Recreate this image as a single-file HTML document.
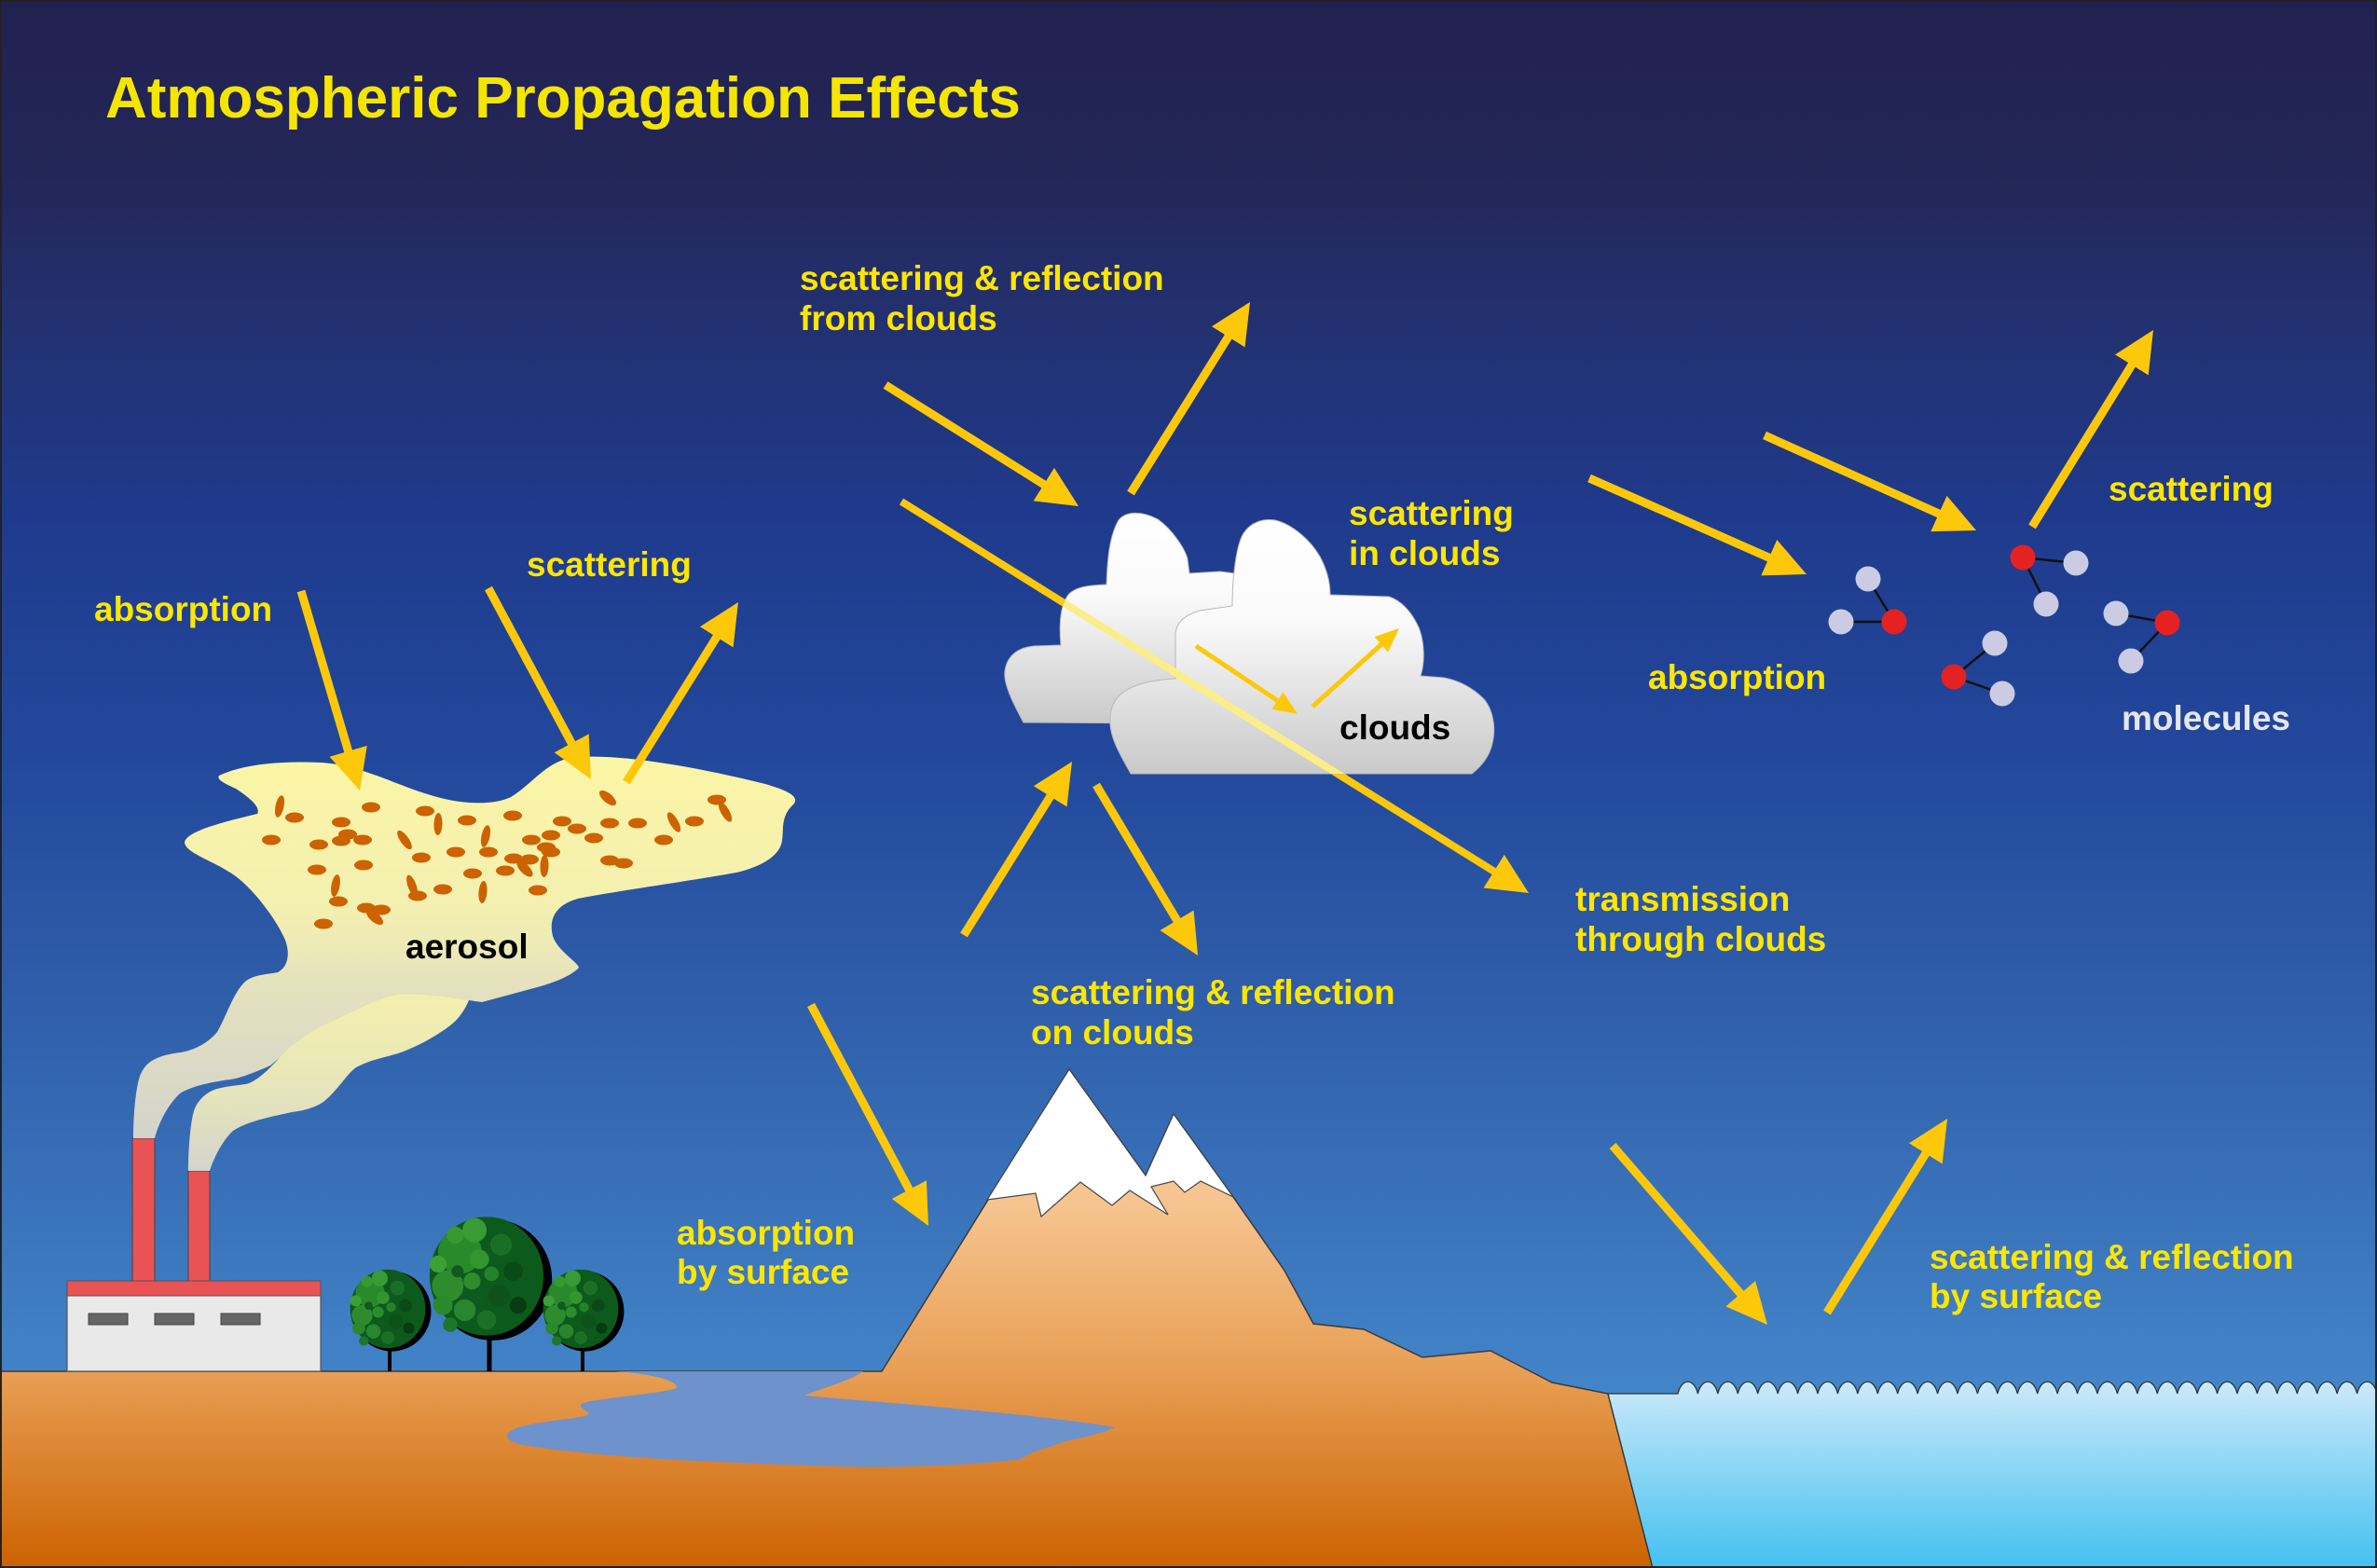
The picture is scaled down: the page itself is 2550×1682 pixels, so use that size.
<!DOCTYPE html>
<html><head><meta charset="utf-8"><style>
html,body{margin:0;padding:0;background:#222250;}
svg{display:block}
text{font-family:"Liberation Sans",Arial,sans-serif;font-weight:bold}
</style></head><body>
<svg width="2550" height="1682" viewBox="0 0 2550 1682" xmlns="http://www.w3.org/2000/svg">
<defs>
<linearGradient id="sky" gradientUnits="userSpaceOnUse" x1="0" y1="0" x2="0" y2="1482">
<stop offset="0" stop-color="#212150"/>
<stop offset="0.135" stop-color="#232759"/>
<stop offset="0.223" stop-color="#23306e"/>
<stop offset="0.371" stop-color="#1f3a8c"/>
<stop offset="0.547" stop-color="#22489c"/>
<stop offset="0.708" stop-color="#2e5ca8"/>
<stop offset="1" stop-color="#4284c8"/>
</linearGradient>
<linearGradient id="ground" gradientUnits="userSpaceOnUse" x1="0" y1="1148" x2="0" y2="1682">
<stop offset="0" stop-color="#f8cb9c"/>
<stop offset="0.27" stop-color="#f6c48f"/>
<stop offset="0.605" stop-color="#e89f55"/>
<stop offset="1" stop-color="#cc6200"/>
</linearGradient>
<linearGradient id="sea" gradientUnits="userSpaceOnUse" x1="0" y1="1480" x2="0" y2="1682">
<stop offset="0" stop-color="#cde9f9"/>
<stop offset="1" stop-color="#43c1f0"/>
</linearGradient>
<linearGradient id="cloudg" x1="0" y1="0" x2="0" y2="1">
<stop offset="0" stop-color="#ffffff"/>
<stop offset="0.4" stop-color="#fafafa"/>
<stop offset="1" stop-color="#c9c9c9"/>
</linearGradient>
<linearGradient id="aer" gradientUnits="userSpaceOnUse" x1="0" y1="820" x2="0" y2="1222">
<stop offset="0" stop-color="#fbf5a6"/>
<stop offset="0.4" stop-color="#f3efb0"/>
<stop offset="0.6" stop-color="#e4e1be"/>
<stop offset="1" stop-color="#d3d3cc"/>
</linearGradient>
<linearGradient id="plume2" gradientUnits="userSpaceOnUse" x1="0" y1="1066" x2="0" y2="1257">
<stop offset="0" stop-color="#f3f0ae"/>
<stop offset="0.5" stop-color="#e8e6b8"/>
<stop offset="1" stop-color="#d4d4cc"/>
</linearGradient>
<marker id="ah" markerUnits="userSpaceOnUse" markerWidth="44" markerHeight="42" viewBox="0 0 44 42" refX="24" refY="21" orient="auto">
<path d="M0,0 L44,21 L0,42 Z" fill="#fec80a"/>
</marker>
<marker id="ahs" markerUnits="userSpaceOnUse" markerWidth="26" markerHeight="22" viewBox="0 0 26 22" refX="14" refY="11" orient="auto">
<path d="M0,0 L26,11 L0,22 Z" fill="#fec80a"/>
</marker>
<clipPath id="cloudclip">
<path d="M1098,775 C1090,760 1076,735 1078,720 C1080,705 1090,695 1109,693 L1138,692 C1136,670 1137,650 1146,638 C1155,628 1172,628 1187,627 C1188,600 1190,575 1200,558 C1208,548 1225,548 1242,557 C1258,568 1272,590 1274,600 L1276,615 L1309,613 L1324,615 L1330,700 L1250,776 Z"/>
<path d="M1213,830 C1205,815 1192,795 1191,777 C1190,760 1195,748 1209,740 C1220,733 1240,729 1261,728 L1261,680 C1262,668 1270,660 1287,655 L1322,650 C1322,620 1326,585 1334,572 C1342,560 1355,556 1368,558 C1385,562 1405,578 1416,597 C1424,612 1427,625 1427,638 L1490,640 C1505,645 1515,658 1522,673 C1528,688 1529,710 1524,725 L1549,727 C1565,730 1580,738 1592,750 C1602,762 1604,780 1602,792 C1600,806 1594,818 1579,830 Z"/>
</clipPath>
<g id="canopy">
<ellipse cx="5" cy="3" rx="49" ry="50" fill="#000"/>
<ellipse cx="0" cy="0" rx="47" ry="49" fill="#0c5a1c"/>
<circle cx="-22" cy="-20" r="18" fill="#2a8a2b"/>
<circle cx="-32" cy="8" r="13" fill="#2e8c2e"/>
<circle cx="-10" cy="-38" r="10" fill="#3a9a34"/>
<circle cx="-26" cy="-34" r="7" fill="#38992f"/>
<circle cx="-40" cy="-10" r="7" fill="#3da035"/>
<circle cx="-36" cy="24" r="8" fill="#2a8a2b"/>
<circle cx="-18" cy="28" r="9" fill="#2a8530"/>
<circle cx="-6" cy="-14" r="8" fill="#34952f"/>
<circle cx="-12" cy="4" r="7" fill="#2e8c2e"/>
<circle cx="12" cy="-26" r="9" fill="#1a6e26"/>
<circle cx="22" cy="-4" r="8" fill="#0a4a16"/>
<circle cx="10" cy="16" r="9" fill="#0d5219"/>
<circle cx="0" cy="36" r="8" fill="#1b7026"/>
<circle cx="26" cy="24" r="7" fill="#063d10"/>
<circle cx="4" cy="-2" r="6" fill="#258229"/>
<circle cx="-24" cy="-4" r="5" fill="#0f5a1e"/>
<circle cx="-8" cy="18" r="5" fill="#0f5a1e"/>
<circle cx="-30" cy="40" r="6" fill="#1e7628"/>
</g>
</defs>

<rect x="0" y="0" width="2550" height="1682" fill="url(#sky)"/>

<text x="113" y="126" font-size="62" fill="#f5e600">Atmospheric Propagation Effects</text>

<path d="M0,1471 L946,1471 L1060,1287 L1147,1147 L1229,1261 L1259,1195 L1323,1284 L1378,1363 L1409,1420 L1463,1426 L1526,1456 L1599,1449 L1665,1483 L1725,1495 L1773,1682 L0,1682 Z" fill="url(#ground)" stroke="#3a3a3a" stroke-width="1.5"/>
<path d="M1059,1287 L1147,1147 L1229,1261 L1259,1195 L1323,1284 L1288,1267 L1271,1279 L1259,1267 L1235,1273 L1253,1303 L1212,1277 L1193,1293 L1159,1268 L1117,1305 L1111,1280 Z" fill="#ffffff" stroke="#444" stroke-width="1.2"/>

<path d="M660,1471 L926,1471 C915,1480 880,1490 863,1497 C950,1505 1100,1515 1196,1531 C1180,1540 1140,1545 1130,1551 C1110,1556 1100,1562 1095,1565 C1050,1572 950,1575 900,1573 C800,1570 650,1565 561,1550 C540,1545 538,1538 556,1531 C590,1522 630,1522 632,1516 C625,1510 612,1506 640,1502 C690,1495 730,1492 726,1487 C722,1480 700,1474 660,1471 Z" fill="#6e92cb"/>

<path d="M1725,1495 L1800,1495 c4,-17 17.43,-17 21.43,0 c4,-17 17.43,-17 21.43,0 c4,-17 17.43,-17 21.43,0 c4,-17 17.43,-17 21.43,0 c4,-17 17.43,-17 21.43,0 c4,-17 17.43,-17 21.43,0 c4,-17 17.43,-17 21.43,0 c4,-17 17.43,-17 21.43,0 c4,-17 17.43,-17 21.43,0 c4,-17 17.43,-17 21.43,0 c4,-17 17.43,-17 21.43,0 c4,-17 17.43,-17 21.43,0 c4,-17 17.43,-17 21.43,0 c4,-17 17.43,-17 21.43,0 c4,-17 17.43,-17 21.43,0 c4,-17 17.43,-17 21.43,0 c4,-17 17.43,-17 21.43,0 c4,-17 17.43,-17 21.43,0 c4,-17 17.43,-17 21.43,0 c4,-17 17.43,-17 21.43,0 c4,-17 17.43,-17 21.43,0 c4,-17 17.43,-17 21.43,0 c4,-17 17.43,-17 21.43,0 c4,-17 17.43,-17 21.43,0 c4,-17 17.43,-17 21.43,0 c4,-17 17.43,-17 21.43,0 c4,-17 17.43,-17 21.43,0 c4,-17 17.43,-17 21.43,0 c4,-17 17.43,-17 21.43,0 c4,-17 17.43,-17 21.43,0 c4,-17 17.43,-17 21.43,0 c4,-17 17.43,-17 21.43,0 c4,-17 17.43,-17 21.43,0 c4,-17 17.43,-17 21.43,0 c4,-17 17.43,-17 21.43,0 L2550,1682 L1773,1682 Z" fill="url(#sea)" stroke="#333" stroke-width="1.3"/>

<rect x="142" y="1221" width="24" height="156" fill="#e95355" stroke="#444" stroke-width="1"/>
<rect x="202" y="1256" width="23" height="121" fill="#e95355" stroke="#444" stroke-width="1"/>
<rect x="72" y="1389" width="272" height="82" fill="#e9e9e9" stroke="#555" stroke-width="1.2"/>
<rect x="72" y="1374" width="272" height="16" fill="#e95355" stroke="#555" stroke-width="1"/>
<rect x="95" y="1409" width="42" height="12" fill="#666" stroke="#444" stroke-width="1"/>
<rect x="166" y="1409" width="42" height="12" fill="#666" stroke="#444" stroke-width="1"/>
<rect x="237" y="1409" width="42" height="12" fill="#666" stroke="#444" stroke-width="1"/>

<path d="M235,832 C260,820 300,816 344,818 C385,820 425,842 459,852 C485,861 525,866 548,855 C570,842 585,818 612,813 C665,806 770,828 821,841 C845,848 860,855 850,864 C836,878 842,892 838,906 C833,920 815,930 790,936 C740,945 660,956 620,964 C598,970 588,984 593,1004 C598,1020 620,1032 621,1038 C612,1048 590,1055 580,1058 L543,1068 L517,1075 L503,1073 L420,1090 L330,1110 L290,1143 C270,1152 255,1157 247,1158 C230,1160 205,1165 193,1173 C180,1185 170,1205 166,1221 L143,1221 C143,1195 146,1160 152,1150 C158,1138 170,1132 193,1129 C207,1127 222,1120 233,1107 C243,1090 250,1065 263,1053 C272,1045 290,1045 298,1043 C310,1037 312,1020 304,1004 C295,985 270,950 247,936 C225,922 200,915 198,904 C199,893 230,884 276,873 C280,866 268,856 253,846 C240,840 232,836 235,832 Z" fill="url(#aer)"/>
<path d="M202,1256 C202,1230 205,1195 210,1187 C215,1177 225,1169 237,1167 C250,1164 262,1164 267,1162 C280,1157 295,1140 307,1127 C318,1117 335,1105 353,1097 C375,1088 405,1070 427,1067 C445,1065 480,1070 503,1073 C498,1085 490,1095 483,1100 C470,1110 450,1122 427,1130 C410,1135 397,1137 382,1145 C372,1152 362,1170 347,1182 C335,1190 320,1192 313,1193 C290,1198 265,1203 250,1213 C240,1222 230,1240 225,1256 Z" fill="url(#plume2)"/>

<g fill="#cc6300">
<ellipse cx="300" cy="865" rx="12" ry="4.5" transform="rotate(-78 300 865)"/>
<ellipse cx="316" cy="877" rx="10" ry="5.5"/>
<ellipse cx="398" cy="866" rx="10" ry="5.5"/>
<ellipse cx="366" cy="882" rx="10" ry="5.5"/>
<ellipse cx="291" cy="901" rx="10" ry="5.5"/>
<ellipse cx="342" cy="906" rx="10" ry="5.5"/>
<ellipse cx="366" cy="902" rx="10" ry="5.5"/>
<ellipse cx="373" cy="895" rx="10" ry="5.5"/>
<ellipse cx="389" cy="901" rx="10" ry="5.5"/>
<ellipse cx="456" cy="870" rx="10" ry="5.5"/>
<ellipse cx="470" cy="884" rx="12" ry="4.5" transform="rotate(-88 470 884)"/>
<ellipse cx="501" cy="880" rx="10" ry="5.5"/>
<ellipse cx="550" cy="875" rx="10" ry="5.5"/>
<ellipse cx="434" cy="901" rx="12" ry="4.5" transform="rotate(55 434 901)"/>
<ellipse cx="521" cy="897" rx="12" ry="4.5" transform="rotate(-78 521 897)"/>
<ellipse cx="452" cy="920" rx="10" ry="5.5"/>
<ellipse cx="489" cy="914" rx="10" ry="5.5"/>
<ellipse cx="524" cy="914" rx="10" ry="5.5"/>
<ellipse cx="570" cy="901" rx="10" ry="5.5"/>
<ellipse cx="591" cy="896" rx="10" ry="5.5"/>
<ellipse cx="603" cy="881" rx="10" ry="5.5"/>
<ellipse cx="619" cy="889" rx="10" ry="5.5"/>
<ellipse cx="586" cy="909" rx="10" ry="5.5"/>
<ellipse cx="591" cy="914" rx="10" ry="5.5"/>
<ellipse cx="637" cy="899" rx="10" ry="5.5"/>
<ellipse cx="654" cy="883" rx="10" ry="5.5"/>
<ellipse cx="684" cy="883" rx="10" ry="5.5"/>
<ellipse cx="712" cy="901" rx="10" ry="5.5"/>
<ellipse cx="723" cy="882" rx="12" ry="4.5" transform="rotate(60 723 882)"/>
<ellipse cx="745" cy="881" rx="10" ry="5.5"/>
<ellipse cx="769" cy="858" rx="10" ry="5.5"/>
<ellipse cx="778" cy="871" rx="12" ry="4.5" transform="rotate(60 778 871)"/>
<ellipse cx="652" cy="856" rx="11" ry="5" transform="rotate(40 652 856)"/>
<ellipse cx="654" cy="923" rx="10" ry="5.5"/>
<ellipse cx="669" cy="926" rx="10" ry="5.5"/>
<ellipse cx="551" cy="921" rx="10" ry="5.5"/>
<ellipse cx="568" cy="922" rx="10" ry="5.5"/>
<ellipse cx="563" cy="932" rx="11" ry="5" transform="rotate(45 563 932)"/>
<ellipse cx="584" cy="929" rx="12" ry="4.5" transform="rotate(-88 584 929)"/>
<ellipse cx="542" cy="934" rx="10" ry="5.5"/>
<ellipse cx="507" cy="937" rx="10" ry="5.5"/>
<ellipse cx="340" cy="933" rx="10" ry="5.5"/>
<ellipse cx="390" cy="928" rx="10" ry="5.5"/>
<ellipse cx="360" cy="950" rx="12" ry="4.5" transform="rotate(-80 360 950)"/>
<ellipse cx="363" cy="967" rx="10" ry="5.5"/>
<ellipse cx="442" cy="950" rx="12" ry="4.5" transform="rotate(70 442 950)"/>
<ellipse cx="448" cy="961" rx="10" ry="5.5"/>
<ellipse cx="475" cy="954" rx="10" ry="5.5"/>
<ellipse cx="518" cy="957" rx="12" ry="4.5" transform="rotate(-85 518 957)"/>
<ellipse cx="577" cy="955" rx="10" ry="5.5"/>
<ellipse cx="393" cy="974" rx="10" ry="5.5"/>
<ellipse cx="409" cy="976" rx="10" ry="5.5"/>
<ellipse cx="402" cy="984" rx="11" ry="5" transform="rotate(40 402 984)"/>
<ellipse cx="347" cy="991" rx="10" ry="5.5"/>
</g>
<text x="435" y="1028" font-size="37" fill="#000">aerosol</text>

<line x1="525" y1="1420" x2="525" y2="1471" stroke="#000" stroke-width="5"/>
<use href="#canopy" transform="translate(522,1369) scale(1.3)"/>
<line x1="418" y1="1435" x2="418" y2="1471" stroke="#000" stroke-width="4"/>
<use href="#canopy" transform="translate(416,1404) scale(0.86)"/>
<line x1="625" y1="1435" x2="625" y2="1471" stroke="#000" stroke-width="4"/>
<use href="#canopy" transform="translate(623,1404) scale(0.86)"/>

<g stroke="#fec80a" stroke-width="9" fill="none">
<line x1="967" y1="538" x2="1623" y2="947.4" stroke-width="8" marker-end="url(#ah)"/>
</g>

<path d="M1098,775 C1090,760 1076,735 1078,720 C1080,705 1090,695 1109,693 L1138,692 C1136,670 1137,650 1146,638 C1155,628 1172,628 1187,627 C1188,600 1190,575 1200,558 C1208,548 1225,548 1242,557 C1258,568 1272,590 1274,600 L1276,615 L1309,613 L1324,615 L1330,700 L1250,776 Z" fill="url(#cloudg)" stroke="#b8b8b8" stroke-width="1"/>
<path d="M1213,830 C1205,815 1192,795 1191,777 C1190,760 1195,748 1209,740 C1220,733 1240,729 1261,728 L1261,680 C1262,668 1270,660 1287,655 L1322,650 C1322,620 1326,585 1334,572 C1342,560 1355,556 1368,558 C1385,562 1405,578 1416,597 C1424,612 1427,625 1427,638 L1490,640 C1505,645 1515,658 1522,673 C1528,688 1529,710 1524,725 L1549,727 C1565,730 1580,738 1592,750 C1602,762 1604,780 1602,792 C1600,806 1594,818 1579,830 Z" fill="url(#cloudg)" stroke="#b8b8b8" stroke-width="1"/>
<line x1="967" y1="538" x2="1623" y2="947.4" stroke="#fbee8a" stroke-width="8" clip-path="url(#cloudclip)"/>

<g stroke="#fec80a" stroke-width="5" fill="none">
<line x1="1283" y1="693" x2="1382" y2="759.3" marker-end="url(#ahs)"/>
<line x1="1408" y1="758" x2="1492.1" y2="682" marker-end="url(#ahs)"/>
</g>
<text x="1437" y="793" font-size="37" fill="#000">clouds</text>

<g stroke="#fec80a" stroke-width="9" fill="none">
<line x1="323" y1="634" x2="380.4" y2="828.8" marker-end="url(#ah)"/>
<line x1="524" y1="631" x2="624.5" y2="818.4" marker-end="url(#ah)"/>
<line x1="672" y1="839" x2="781.4" y2="663" marker-end="url(#ah)"/>
<line x1="950" y1="413" x2="1140.1" y2="532.4" marker-end="url(#ah)"/>
<line x1="1213" y1="529" x2="1330.4" y2="341" marker-end="url(#ah)"/>
<line x1="1034" y1="1003" x2="1139.4" y2="834" marker-end="url(#ah)"/>
<line x1="1176" y1="842" x2="1274.8" y2="1007.8" marker-end="url(#ah)"/>
<line x1="870" y1="1078" x2="986.6" y2="1297.3" marker-end="url(#ah)"/>
<line x1="1705" y1="513" x2="1919.7" y2="607.9" marker-end="url(#ah)"/>
<line x1="1893" y1="467" x2="2101.8" y2="560.8" marker-end="url(#ah)"/>
<line x1="2180" y1="565" x2="2299.5" y2="371" marker-end="url(#ah)"/>
<line x1="1730" y1="1229" x2="1882.9" y2="1405.9" marker-end="url(#ah)"/>
<line x1="1960" y1="1408" x2="2078.5" y2="1217" marker-end="url(#ah)"/>
</g>

<g stroke="#111" stroke-width="2.5">
<line x1="2004" y1="621" x2="2032" y2="667"/>
<line x1="1975" y1="667" x2="2032" y2="667"/>
<line x1="2170" y1="598" x2="2227" y2="604"/>
<line x1="2170" y1="598" x2="2195" y2="648"/>
<line x1="2096" y1="726" x2="2140" y2="690"/>
<line x1="2096" y1="726" x2="2148" y2="744"/>
<line x1="2325" y1="668" x2="2270" y2="658"/>
<line x1="2325" y1="668" x2="2286" y2="709"/>
</g>
<g fill="#cbcbe4">
<circle cx="2004" cy="621" r="13.5"/>
<circle cx="1975" cy="667" r="13.5"/>
<circle cx="2227" cy="604" r="13.5"/>
<circle cx="2195" cy="648" r="13.5"/>
<circle cx="2140" cy="690" r="13.5"/>
<circle cx="2148" cy="744" r="13.5"/>
<circle cx="2270" cy="658" r="13.5"/>
<circle cx="2286" cy="709" r="13.5"/>
</g>
<g fill="#e42222">
<circle cx="2032" cy="667" r="13.5"/>
<circle cx="2170" cy="598" r="13.5"/>
<circle cx="2096" cy="726" r="13.5"/>
<circle cx="2325" cy="668" r="13.5"/>
</g>

<g font-size="37" fill="#ffe600">
<text x="101" y="666">absorption</text>
<text x="565" y="618">scattering</text>
<text x="858" y="311">scattering &amp; reflection</text>
<text x="858" y="354">from clouds</text>
<text x="1447" y="563">scattering</text>
<text x="1447" y="606">in clouds</text>
<text x="1768" y="739">absorption</text>
<text x="2262" y="537">scattering</text>
<text x="1690" y="977">transmission</text>
<text x="1690" y="1020">through clouds</text>
<text x="1106" y="1077">scattering &amp; reflection</text>
<text x="1106" y="1120">on clouds</text>
<text x="726" y="1335">absorption</text>
<text x="726" y="1377">by surface</text>
<text x="2070" y="1361">scattering &amp; reflection</text>
<text x="2070" y="1403">by surface</text>
</g>
<text x="2276" y="783" font-size="37" fill="#e6e6ee">molecules</text>

<rect x="1" y="1" width="2548" height="1680" fill="none" stroke="#222" stroke-width="2"/>
</svg>
</body></html>
